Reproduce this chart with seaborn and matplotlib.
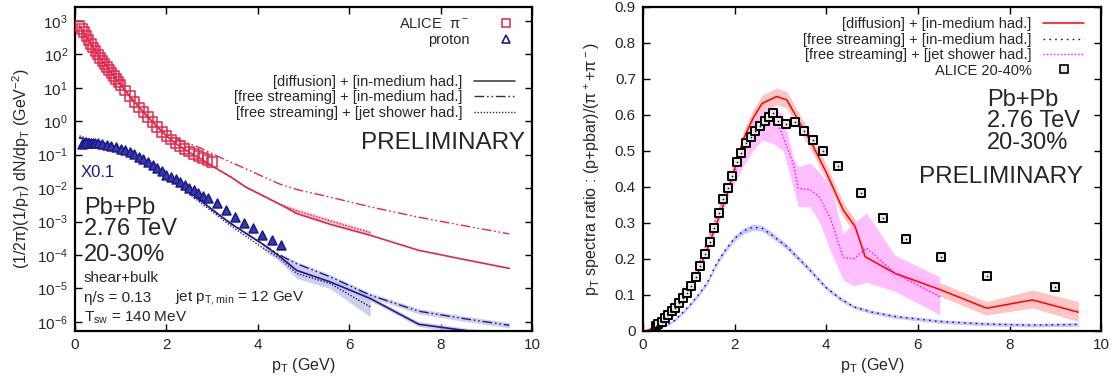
import numpy as np
import pandas as pd
import matplotlib
matplotlib.use("Agg")
import matplotlib.pyplot as plt
import seaborn as sns
from matplotlib.lines import Line2D
from matplotlib.ticker import FixedLocator, LogFormatterMathtext, NullLocator

sns.set_theme(style="ticks")
plt.rcParams['font.family'] = ['Liberation Sans', 'DejaVu Sans']
plt.rcParams['mathtext.default'] = 'regular'

# ---------------- left panel : spectra ----------------
# ALICE pi- (20-30%)
pt_pi = [0.1, 0.15, 0.2, 0.25, 0.3, 0.35, 0.4, 0.45, 0.5, 0.55, 0.6, 0.65, 0.7, 0.75,
         0.8, 0.85, 0.9, 0.95, 1.0, 1.1, 1.2, 1.3, 1.4, 1.5, 1.6, 1.7, 1.8, 1.9, 2.0,
         2.1, 2.2, 2.3, 2.4, 2.5, 2.6, 2.7, 2.8, 2.9, 3.0]
y_pi = [692, 575, 457, 347, 263, 204, 158, 123, 98, 78, 63, 51, 42, 34,
        27.5, 22.4, 18.6, 15.1, 12.3, 8.3, 5.6, 3.8, 2.6, 1.86, 1.32, 0.95, 0.68, 0.48, 0.36,
        0.282, 0.219, 0.178, 0.145, 0.123, 0.105, 0.091, 0.079, 0.068, 0.060]

# ALICE proton x0.1
pt_p = [0.15, 0.2, 0.25, 0.3, 0.35, 0.4, 0.45, 0.5, 0.6, 0.7, 0.8, 0.9, 1.0, 1.1, 1.2,
        1.3, 1.4, 1.5, 1.6, 1.7, 1.8, 1.9, 2.0, 2.1, 2.2, 2.3, 2.4, 2.5, 2.6, 2.7, 2.8,
        2.9, 3.1, 3.3, 3.5, 3.7, 3.9, 4.1, 4.3, 4.5]
y_p = [0.214, 0.219, 0.224, 0.224, 0.224, 0.224, 0.219, 0.219, 0.209, 0.200, 0.186,
       0.170, 0.151, 0.135, 0.117, 0.102, 0.087, 0.072, 0.060, 0.049, 0.039, 0.032,
       0.025, 0.0219, 0.0186, 0.0155, 0.0123, 0.0102, 0.0087, 0.0071, 0.0059, 0.0049,
       0.0035, 0.0022, 0.00138, 9.3e-4, 6.6e-4, 4.1e-4, 2.9e-4, 1.95e-4]

# model curves
pt_mod = [0.1, 0.3, 0.5, 0.75, 1.0, 1.25, 1.5, 1.75, 2.0, 2.25, 2.5, 2.75, 3.0, 3.4,
          3.75, 4.1, 4.48, 4.85, 5.58, 6.46, 7.52, 8.5, 9.5]
pi_diff = [708, 263, 97.7, 33.9, 12.3, 4.57, 1.86, 0.794, 0.363, 0.195, 0.117, 0.0759,
           0.0457, 0.0219, 0.0105, 0.00603, 0.00331, 0.00174, 8.3e-4, 3.89e-4, 1.38e-4,
           7.41e-5, 3.98e-5]
pi_fs = [708, 263, 97.7, 33.9, 12.3, 4.57, 1.86, 0.794, 0.398, 0.282, 0.214, 0.158,
         0.107, 0.0603, 0.0372, 0.0224, 0.0132, 0.00912, 0.00537, 0.00275, 0.00135,
         7.59e-4, 4.27e-4]
pi_jet = [708, 263, 97.7, 33.9, 12.3, 4.57, 1.86, 0.794, 0.363, 0.195, 0.117, 0.0759,
          0.0457, 0.0219, 0.0105, 0.00603, 0.00331, 0.00209, 0.00105, 4.68e-4]
pt_band_pi = [4.48, 4.85, 5.58, 6.46]
pi_jet_lo = [0.00316, 0.00174, 8.9e-4, 3.98e-4]
pi_jet_hi = [0.00347, 0.00251, 0.0012, 5.37e-4]

p_diff = [0.316, 0.282, 0.251, 0.200, 0.151, 0.105, 0.0692, 0.0427, 0.0251, 0.0145,
          0.00794, 0.00427, 0.00229, 8.91e-4, 4.37e-4, 2.14e-4, 9.12e-5, 3.47e-5,
          1.58e-5, 5.01e-6, 8.51e-7, 5.62e-7, 3.80e-7]
p_fs = [0.316, 0.282, 0.251, 0.200, 0.151, 0.105, 0.0692, 0.0427, 0.0251, 0.0145,
        0.00794, 0.00427, 0.00229, 8.91e-4, 4.37e-4, 2.14e-4, 1.0e-4, 5.5e-5, 2.24e-5,
        6.31e-6, 2.09e-6, 1.26e-6, 7.94e-7]
p_jet = [0.363, 0.302, 0.257, 0.200, 0.148, 0.100, 0.0646, 0.0389, 0.0219, 0.0123,
         0.00676, 0.00363, 0.002, 7.59e-4, 3.55e-4, 1.66e-4, 7.94e-5, 2.82e-5, 1.41e-5,
         2.82e-6]
pt_band_p = [4.48, 4.85, 5.58, 6.46, 7.52, 8.5, 9.5]
p_diff_lo = [8.13e-5, 3.02e-5, 1.38e-5, 4.27e-6, 7.24e-7, 4.68e-7, 3.16e-7]
p_diff_hi = [1.02e-4, 3.98e-5, 1.82e-5, 5.89e-6, 1.02e-6, 6.76e-7, 4.57e-7]
p_fs_lo = [8.91e-5, 4.79e-5, 1.91e-5, 5.37e-6, 1.74e-6, 1.05e-6, 6.61e-7]
p_fs_hi = [1.12e-4, 6.31e-5, 2.63e-5, 7.41e-6, 2.51e-6, 1.51e-6, 9.55e-7]
pt_band_pj = [4.1, 4.48, 4.85, 5.58, 6.46]
p_jet_lo = [1.48e-4, 6.31e-5, 2.0e-5, 1.0e-5, 1.41e-6]
p_jet_hi = [1.86e-4, 1.0e-4, 5.01e-5, 2.0e-5, 6.31e-6]

spec_ticks = [1e-6, 1e-5, 1e-4, 1e-3, 1e-2, 1e-1, 1e0, 1e1, 1e2, 1e3]

# ---------------- right panel : p/pi ratio ----------------
pt_alice = [0.28, 0.33, 0.41, 0.48, 0.55, 0.63, 0.70, 0.79, 0.87, 0.96, 1.06, 1.16,
            1.25, 1.35, 1.46, 1.55, 1.66, 1.75, 1.86, 1.95, 2.06, 2.15, 2.26, 2.35,
            2.45, 2.55, 2.66, 2.75, 2.85, 2.95, 3.12, 3.32, 3.52, 3.72, 3.92, 4.25,
            4.75, 5.25, 5.75, 6.5, 7.5, 9.0]
ratio_alice = [0.014, 0.019, 0.026, 0.035, 0.044, 0.054, 0.063, 0.077, 0.091, 0.105,
               0.125, 0.151, 0.179, 0.213, 0.248, 0.285, 0.327, 0.366, 0.396, 0.429,
               0.468, 0.495, 0.521, 0.540, 0.554, 0.568, 0.582, 0.594, 0.605, 0.584,
               0.575, 0.581, 0.554, 0.529, 0.501, 0.458, 0.382, 0.315, 0.256, 0.206,
               0.153, 0.121]

pt_r_diff = [0.1, 0.3, 0.5, 0.7, 0.9, 1.0, 1.2, 1.4, 1.6, 1.8, 2.0, 2.2, 2.4, 2.6,
             2.92, 3.14, 3.43, 3.72, 4.01, 4.37, 4.63, 4.85, 5.5, 6.5, 7.5, 8.5, 9.5]
r_diff = [0.002, 0.01, 0.025, 0.05, 0.085, 0.10, 0.16, 0.225, 0.295, 0.365, 0.45,
          0.535, 0.59, 0.632, 0.651, 0.642, 0.577, 0.512, 0.438, 0.336, 0.29, 0.206,
          0.16, 0.114, 0.063, 0.086, 0.052]
r_diff_lo = [0.001, 0.008, 0.022, 0.046, 0.08, 0.094, 0.152, 0.215, 0.283, 0.35, 0.432,
             0.513, 0.567, 0.609, 0.628, 0.619, 0.555, 0.49, 0.417, 0.316, 0.27, 0.19,
             0.143, 0.095, 0.044, 0.064, 0.026]
r_diff_hi = [0.003, 0.012, 0.028, 0.054, 0.09, 0.106, 0.168, 0.235, 0.307, 0.38, 0.468,
             0.557, 0.613, 0.655, 0.675, 0.665, 0.6, 0.535, 0.46, 0.357, 0.31, 0.222,
             0.177, 0.133, 0.081, 0.114, 0.081]

pt_r_fs = [0.2, 0.5, 0.7, 0.9, 1.05, 1.24, 1.4, 1.6, 1.8, 2.0, 2.2, 2.4, 2.6, 2.8,
           3.14, 3.57, 4.0, 4.3, 4.6, 5.0, 5.5, 6.5, 7.5, 8.5, 9.5]
r_fs = [0.003, 0.015, 0.03, 0.055, 0.075, 0.105, 0.133, 0.185, 0.225, 0.257, 0.278,
        0.288, 0.285, 0.268, 0.234, 0.179, 0.12, 0.09, 0.067, 0.052, 0.04, 0.026,
        0.019, 0.016, 0.018]
r_fs_lo = [0.002, 0.012, 0.026, 0.05, 0.07, 0.099, 0.127, 0.178, 0.218, 0.249, 0.27,
           0.279, 0.277, 0.26, 0.226, 0.172, 0.114, 0.084, 0.062, 0.047, 0.035, 0.021,
           0.014, 0.011, 0.013]
r_fs_hi = [0.004, 0.018, 0.034, 0.06, 0.08, 0.111, 0.139, 0.192, 0.232, 0.265, 0.286,
           0.297, 0.293, 0.276, 0.242, 0.186, 0.126, 0.096, 0.072, 0.057, 0.045, 0.031,
           0.024, 0.021, 0.023]

pt_r_jet = [0.1, 0.5, 1.0, 1.5, 1.8, 2.0, 2.2, 2.4, 2.6, 2.85, 3.06, 3.28, 3.39, 3.65,
            3.86, 4.1, 4.37, 4.6, 4.88, 5.5, 6.48]
r_jet = [0.0, 0.035, 0.11, 0.28, 0.38, 0.44, 0.5, 0.55, 0.585, 0.60, 0.54, 0.466,
         0.396, 0.393, 0.37, 0.31, 0.204, 0.20, 0.23, 0.16, 0.095]
r_jet_lo = [0.0, 0.03, 0.1, 0.27, 0.36, 0.41, 0.46, 0.50, 0.53, 0.52, 0.50, 0.40,
            0.345, 0.345, 0.30, 0.22, 0.142, 0.125, 0.135, 0.11, 0.045]
r_jet_hi = [0.0, 0.04, 0.12, 0.29, 0.40, 0.47, 0.53, 0.58, 0.61, 0.625, 0.60, 0.48,
            0.456, 0.466, 0.44, 0.40, 0.27, 0.30, 0.327, 0.21, 0.15]

ratio_ticks = [0, 0.1, 0.2, 0.3, 0.4, 0.5, 0.6, 0.7, 0.8, 0.9]
ratio_ticklabels = ['0', '0.1', '0.2', '0.3', '0.4', '0.5', '0.6', '0.7', '0.8', '0.9']
pt_ticks = [0, 2, 4, 6, 8, 10]

lab_diff = '[diffusion] + [in-medium had.]'
lab_fs = '[free streaming] + [in-medium had.]'
lab_jet = '[free streaming] + [jet shower had.]'

# colours / styles
c_pi = '#e0284c'
c_pi_band = '#f6b8c6'
c_p = '#1c1c8e'
c_p_band = '#c4c4e6'
ls_dd = (0, (7, 2, 1.2, 2, 1.2, 2))
ls_dot = (0, (1, 1.2))
ls_blue = (0, (1.2, 3))
ls_mag = (0, (1, 1.5))

fig = plt.figure(figsize=(11.18, 3.87), dpi=100)
ax1 = fig.add_axes([0.067, 0.145, 0.409, 0.837])
ax2 = fig.add_axes([0.575, 0.145, 0.410, 0.837])


def style_axes(ax):
    for s in ax.spines.values():
        s.set_linewidth(1.6)
        s.set_color('black')
    ax.tick_params(which='both', direction='in', top=True, right=True,
                   length=5, width=1.0, labelsize=11, color='black', pad=5)
    ax.set_xlim(0, 10)
    ax.set_xticks(pt_ticks)
    ax.set_xlabel('p$_T$ (GeV)', fontsize=11.5, labelpad=3)


# ---- left ----
ax = ax1
ax.set_yscale('log')
ax.fill_between(pt_band_pi, pi_jet_lo, pi_jet_hi, color=c_pi_band, lw=0, alpha=0.8)
ax.fill_between(pt_band_p, p_diff_lo, p_diff_hi, color=c_p_band, lw=0, alpha=0.8)
ax.fill_between(pt_band_p, p_fs_lo, p_fs_hi, color=c_p_band, lw=0, alpha=0.8)
ax.fill_between(pt_band_pj, p_jet_lo, p_jet_hi, color=c_p_band, lw=0, alpha=0.8)

sns.lineplot(x=pt_mod, y=pi_diff, ax=ax, color=c_pi, lw=1.2)
sns.lineplot(x=pt_mod, y=pi_fs, ax=ax, color=c_pi, lw=1.0, linestyle=ls_dd)
sns.lineplot(x=pt_mod[:len(pi_jet)], y=pi_jet, ax=ax, color=c_pi, lw=1.0, linestyle=ls_dot)
sns.lineplot(x=pt_mod, y=p_diff, ax=ax, color=c_p, lw=1.2)
sns.lineplot(x=pt_mod, y=p_fs, ax=ax, color=c_p, lw=1.0, linestyle=ls_dd)
sns.lineplot(x=pt_mod[:len(p_jet)], y=p_jet, ax=ax, color=c_p, lw=1.0, linestyle=ls_dot)

sns.scatterplot(x=pt_pi, y=y_pi, ax=ax, marker='s', s=48, facecolor='none',
                edgecolor=c_pi, linewidth=1.1, zorder=5)
sns.scatterplot(x=pt_p, y=y_p, ax=ax, marker='^', s=40, facecolor='#3a3aa4',
                edgecolor=c_p, linewidth=1.2, zorder=5)

style_axes(ax)
ax.set_ylim(5.4e-7, 2600)
ax.yaxis.set_major_locator(FixedLocator(spec_ticks))
ax.yaxis.set_major_formatter(LogFormatterMathtext())
ax.yaxis.set_minor_locator(NullLocator())
ax.set_ylabel('(1/2π)(1/p$_T$) dN/dp$_T$ (GeV$^{-2}$)', fontsize=11.5, labelpad=4)

h1 = [Line2D([], [], ls='none', marker='s', ms=6, mfc='none', mec=c_pi, mew=1.1),
      Line2D([], [], ls='none', marker='^', ms=6, mfc='none', mec=c_p, mew=1.2)]
leg1 = ax.legend(h1, ['ALICE  π$^-$', 'proton'], loc='upper right',
                 bbox_to_anchor=(0.99, 1.0), frameon=False, markerfirst=False,
                 fontsize=10.5, handlelength=1.5, handletextpad=1.8, labelspacing=0.15,
                 borderaxespad=0.3)
ax.add_artist(leg1)
h2 = [Line2D([], [], color='#333333', lw=1.1),
      Line2D([], [], color='#333333', lw=1.0, ls=ls_dd),
      Line2D([], [], color='#333333', lw=1.0, ls=ls_dot)]
ax.legend(h2, [lab_diff, lab_fs, lab_jet], loc='upper right',
          bbox_to_anchor=(0.985, 0.822), frameon=False, markerfirst=False,
          fontsize=10.5, handlelength=2.8, handletextpad=0.8, labelspacing=0.1,
          borderaxespad=0.3)

ax.text(0.985, 0.58, 'PRELIMINARY', transform=ax.transAxes, ha='right', va='center',
        fontsize=17.5)
ax.text(0.012, 0.49, 'X0.1', transform=ax.transAxes, ha='left', va='center',
        fontsize=12, color=c_p)
ax.text(0.02, 0.38, 'Pb+Pb', transform=ax.transAxes, ha='left', va='center', fontsize=17)
ax.text(0.02, 0.316, '2.76 TeV', transform=ax.transAxes, ha='left', va='center', fontsize=17)
ax.text(0.02, 0.235, '20-30%', transform=ax.transAxes, ha='left', va='center', fontsize=17)
ax.text(0.02, 0.164, 'shear+bulk', transform=ax.transAxes, ha='left', va='center', fontsize=11)
ax.text(0.02, 0.102, 'η/s = 0.13', transform=ax.transAxes, ha='left', va='center', fontsize=11)
ax.text(0.219, 0.102, 'jet p$_{T,min}$ = 12 GeV', transform=ax.transAxes, ha='left',
        va='center', fontsize=11)
ax.text(0.02, 0.040, 'T$_{sw}$ = 140 MeV', transform=ax.transAxes, ha='left', va='center',
        fontsize=11)

# ---- right ----
ax = ax2
ax.fill_between(pt_r_diff, r_diff_lo, r_diff_hi, color='#ffc4c4', lw=0)
ax.fill_between(pt_r_jet, r_jet_lo, r_jet_hi, color='#ffb4ff', lw=0, alpha=0.85)
ax.fill_between(pt_r_fs, r_fs_lo, r_fs_hi, color='#c8c8f4', lw=0)
sns.lineplot(x=pt_r_diff, y=r_diff, ax=ax, color='#ff0000', lw=1.1)
sns.lineplot(x=pt_r_fs, y=r_fs, ax=ax, color='#0000ff', lw=1.0, linestyle=ls_blue)
sns.lineplot(x=pt_r_jet, y=r_jet, ax=ax, color='#ff00ff', lw=1.0, linestyle=ls_mag)
sns.scatterplot(x=pt_alice, y=ratio_alice, ax=ax, marker='s', s=36, facecolor='#e8e8e8',
                edgecolor='#000000', linewidth=1.4, zorder=5)
sns.scatterplot(x=pt_alice, y=ratio_alice, ax=ax, marker='.', s=6, color='#111111',
                linewidth=0, zorder=6)

style_axes(ax)
ax.set_ylim(0, 0.9)
ax.set_yticks(ratio_ticks)
ax.set_yticklabels(ratio_ticklabels)
ax.set_ylabel('p$_T$ spectra ratio : (p+pbar)/(π$^+$+π$^-$)', fontsize=11.5, labelpad=9)

h3 = [Line2D([], [], color='#ff0000', lw=1.1),
      Line2D([], [], color='#0000ff', lw=1.0, ls=ls_blue),
      Line2D([], [], color='#ff00ff', lw=1.0, ls=ls_mag),
      Line2D([], [], ls='none', marker='s', ms=5.5, mfc='#e8e8e8', mec='#000000', mew=1.2)]
ax.legend(h3, [lab_diff, lab_fs, lab_jet, 'ALICE 20-40%'], loc='upper right',
          bbox_to_anchor=(0.985, 1.0), frameon=False, markerfirst=False,
          fontsize=10.5, handlelength=2.8, handletextpad=0.8, labelspacing=0.1,
          borderaxespad=0.3)
ax.text(0.751, 0.713, 'Pb+Pb', transform=ax.transAxes, ha='left', va='center', fontsize=17)
ax.text(0.751, 0.648, '2.76 TeV', transform=ax.transAxes, ha='left', va='center', fontsize=17)
ax.text(0.751, 0.58, '20-30%', transform=ax.transAxes, ha='left', va='center', fontsize=17)
ax.text(0.96, 0.475, 'PRELIMINARY', transform=ax.transAxes, ha='right', va='center',
        fontsize=17.5)

fig.savefig('out.png', dpi=100)
